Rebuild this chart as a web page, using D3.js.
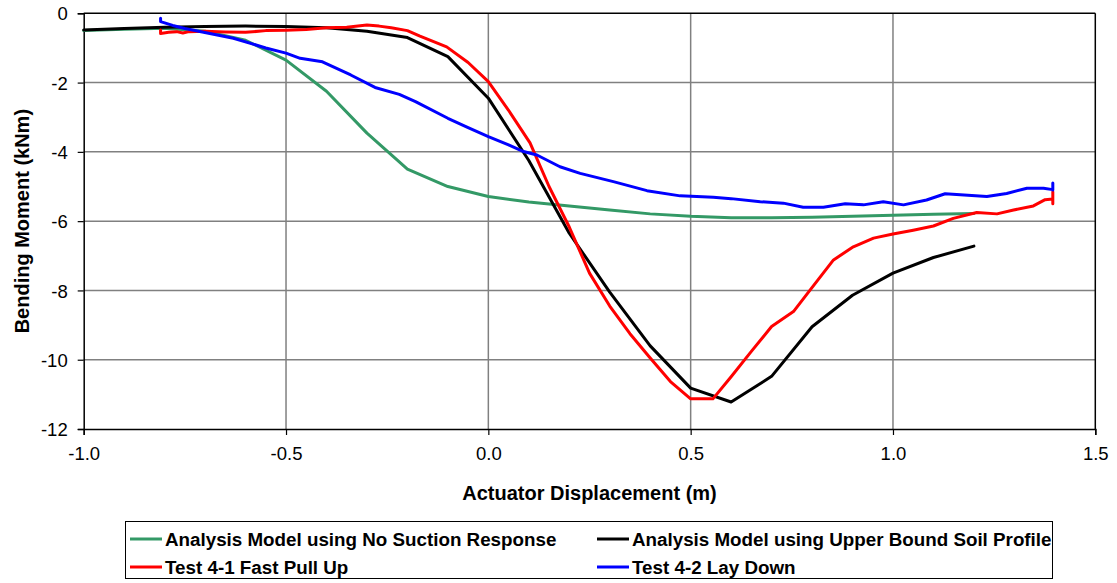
<!DOCTYPE html>
<html>
<head>
<meta charset="utf-8">
<script src="https://cdn.jsdelivr.net/npm/d3@7/dist/d3.min.js"></script>
<style>
  html, body { margin: 0; padding: 0; background: #fff; }
  svg { display: block; }
  text { font-family: "Liberation Sans", Arial, sans-serif; fill: #000; }
</style>
</head>
<body>
<svg id="chart" width="1117" height="583"></svg>
<script>
// Analysis model: no suction response
const noSuctionX = [-1.0, -0.9, -0.8, -0.7, -0.6, -0.5, -0.4, -0.3, -0.2, -0.1, 0.0, 0.1, 0.2, 0.3, 0.4, 0.5, 0.6, 0.7, 0.8, 0.9, 1.0, 1.1, 1.2];
const noSuctionY = [-0.5, -0.46, -0.43, -0.52, -0.78, -1.35, -2.25, -3.46, -4.5, -5.0, -5.29, -5.45, -5.56, -5.68, -5.79, -5.86, -5.9, -5.9, -5.89, -5.86, -5.83, -5.8, -5.78];

// Analysis model: upper bound soil profile
const upperBoundX = [-1.0, -0.9, -0.8, -0.7, -0.6, -0.5, -0.4, -0.3, -0.2, -0.1, 0.0, 0.1, 0.2, 0.3, 0.4, 0.5, 0.6, 0.7, 0.8, 0.9, 1.0, 1.1, 1.2];
const upperBoundY = [-0.48, -0.44, -0.4, -0.38, -0.37, -0.38, -0.42, -0.52, -0.7, -1.25, -2.45, -4.25, -6.35, -8.05, -9.6, -10.82, -11.22, -10.48, -9.05, -8.14, -7.5, -7.05, -6.72];

// Test 4-1 fast pull up
const pullUpX = [-0.81, -0.81, -0.79, -0.77, -0.755, -0.74, -0.7, -0.65, -0.6, -0.55, -0.5, -0.45, -0.4, -0.35, -0.3, -0.27, -0.24, -0.2, -0.169, -0.103, -0.05, 0.0, 0.05, 0.103, 0.15, 0.2, 0.25, 0.3, 0.35, 0.4, 0.45, 0.5, 0.555, 0.6, 0.65, 0.7, 0.754, 0.795, 0.853, 0.902, 0.952, 1.0, 1.05, 1.1, 1.149, 1.207, 1.257, 1.298, 1.347, 1.376, 1.395, 1.395, 1.395];
const pullUpY = [-0.48, -0.58, -0.55, -0.53, -0.57, -0.53, -0.52, -0.54, -0.55, -0.5, -0.49, -0.47, -0.42, -0.4, -0.34, -0.37, -0.42, -0.5, -0.66, -0.97, -1.42, -1.97, -2.8, -3.74, -5.0, -6.17, -7.5, -8.45, -9.25, -9.95, -10.63, -11.13, -11.13, -10.49, -9.76, -9.04, -8.61, -7.99, -7.12, -6.74, -6.49, -6.37, -6.26, -6.14, -5.92, -5.75, -5.79, -5.68, -5.56, -5.38, -5.36, -5.5, -5.15];

// Test 4-2 lay down
const layDownX = [-0.81, -0.81, -0.78, -0.75, -0.71, -0.63, -0.55, -0.5, -0.465, -0.41, -0.34, -0.28, -0.22, -0.18, -0.1, -0.05, 0.0, 0.05, 0.087, 0.12, 0.177, 0.227, 0.309, 0.392, 0.474, 0.556, 0.6, 0.672, 0.729, 0.778, 0.828, 0.882, 0.927, 0.976, 1.026, 1.083, 1.129, 1.232, 1.281, 1.331, 1.372, 1.395, 1.395, 1.395];
const layDownY = [-0.14, -0.24, -0.35, -0.44, -0.53, -0.72, -1.0, -1.15, -1.3, -1.4, -1.78, -2.14, -2.34, -2.55, -3.03, -3.3, -3.56, -3.8, -3.99, -4.09, -4.43, -4.62, -4.86, -5.12, -5.27, -5.31, -5.35, -5.44, -5.48, -5.6, -5.6, -5.5, -5.53, -5.44, -5.53, -5.39, -5.21, -5.29, -5.2, -5.05, -5.05, -5.09, -4.9, -5.1];

const seriesNames = [
  "Analysis Model using No Suction Response",
  "Analysis Model using Upper Bound Soil Profile",
  "Test 4-1 Fast Pull Up",
  "Test 4-2 Lay Down"
];
const seriesColors = ["#339966", "#000000", "#ff0000", "#0000ff"];

const xTicks = [-1.0, -0.5, 0.0, 0.5, 1.0, 1.5];
const yTicks = [0, -2, -4, -6, -8, -10, -12];

const xTitle = "Actuator Displacement (m)";
const yTitle = "Bending Moment (kNm)";

const series = [
  { name: seriesNames[0], color: seriesColors[0], pts: d3.zip(noSuctionX, noSuctionY) },
  { name: seriesNames[1], color: seriesColors[1], pts: d3.zip(upperBoundX, upperBoundY) },
  { name: seriesNames[2], color: seriesColors[2], pts: d3.zip(pullUpX, pullUpY) },
  { name: seriesNames[3], color: seriesColors[3], pts: d3.zip(layDownX, layDownY) }
];

const svg = d3.select("#chart");
const plot = { left: 83.7, right: 1095.3, top: 13.3, bottom: 429 };

const x = d3.scaleLinear().domain([-1.0, 1.5]).range([plot.left, plot.right]);
const y = d3.scaleLinear().domain([-12, 0]).range([plot.bottom, plot.top]);

// Gridlines
const grid = svg.append("g");
grid.selectAll("line.gx").data(xTicks.slice(1, -1)).join("line")
  .attr("x1", d => x(d)).attr("x2", d => x(d))
  .attr("y1", plot.top).attr("y2", plot.bottom)
  .attr("stroke", "#808080").attr("stroke-width", 1.5);
grid.selectAll("line.gy").data(yTicks.slice(1, -1)).join("line")
  .attr("x1", plot.left).attr("x2", plot.right)
  .attr("y1", d => y(d)).attr("y2", d => y(d))
  .attr("stroke", "#808080").attr("stroke-width", 1.5);

// Plot frame (top and right)
svg.append("line").attr("x1", plot.left).attr("x2", plot.right)
  .attr("y1", plot.top).attr("y2", plot.top)
  .attr("stroke", "#000").attr("stroke-width", 1.5);
svg.append("line").attr("x1", plot.right).attr("x2", plot.right)
  .attr("y1", plot.top).attr("y2", plot.bottom)
  .attr("stroke", "#000").attr("stroke-width", 1.5);

// Axes (plain hyphen for negative labels)
const xAxis = svg.append("g")
  .attr("transform", `translate(0,${plot.bottom})`)
  .call(d3.axisBottom(x).tickValues(xTicks).tickFormat(d => d.toFixed(1)).tickSize(6).tickPadding(12));
const yAxis = svg.append("g")
  .attr("transform", `translate(${plot.left},0)`)
  .call(d3.axisLeft(y).tickValues(yTicks).tickFormat(d => String(d)).tickSize(6).tickPadding(10));

[xAxis, yAxis].forEach(g => {
  g.select(".domain").attr("stroke", "#000").attr("stroke-width", 1.5);
  g.selectAll(".tick line").attr("stroke", "#000").attr("stroke-width", 1.2);
  g.selectAll(".tick text")
    .style("font-family", "'Liberation Sans', Arial, sans-serif")
    .style("font-size", "18.5px").attr("fill", "#000");
});
yAxis.selectAll(".tick text").attr("dy", "0.36em");

// Series lines
const line = d3.line().x(d => x(d[0])).y(d => y(d[1]));
svg.append("g").selectAll("path").data(series).join("path")
  .attr("d", d => line(d.pts))
  .attr("fill", "none")
  .attr("stroke", d => d.color)
  .attr("stroke-width", 3)
  .attr("stroke-linejoin", "round")
  .attr("stroke-linecap", "round");

// Axis titles
svg.append("text")
  .attr("x", (plot.left + plot.right) / 2).attr("y", 500)
  .attr("text-anchor", "middle")
  .style("font-size", "20px").style("font-weight", "bold")
  .text(xTitle);
svg.append("text")
  .attr("transform", `translate(29,${(plot.top + plot.bottom) / 2}) rotate(-90)`)
  .attr("text-anchor", "middle")
  .style("font-size", "20px").style("font-weight", "bold")
  .text(yTitle);

// Legend
const legend = svg.append("g");
legend.append("rect")
  .attr("x", 125.5).attr("y", 521.5).attr("width", 927).attr("height", 57)
  .attr("fill", "#fff").attr("stroke", "#000").attr("stroke-width", 1);
const legendPos = [
  { x: 130, y: 539 }, { x: 597, y: 539 },
  { x: 130, y: 567 }, { x: 597, y: 567 }
];
const items = legend.selectAll("g.item").data(series).join("g")
  .attr("transform", (d, i) => `translate(${legendPos[i].x},${legendPos[i].y})`);
items.append("line")
  .attr("x1", 0).attr("x2", 32).attr("y1", 0).attr("y2", 0)
  .attr("stroke", d => d.color).attr("stroke-width", 3);
items.append("text")
  .attr("x", 35).attr("y", 0).attr("dy", "0.36em")
  .style("font-size", "18.8px").style("font-weight", "bold")
  .text(d => d.name);
</script>
</body>
</html>
